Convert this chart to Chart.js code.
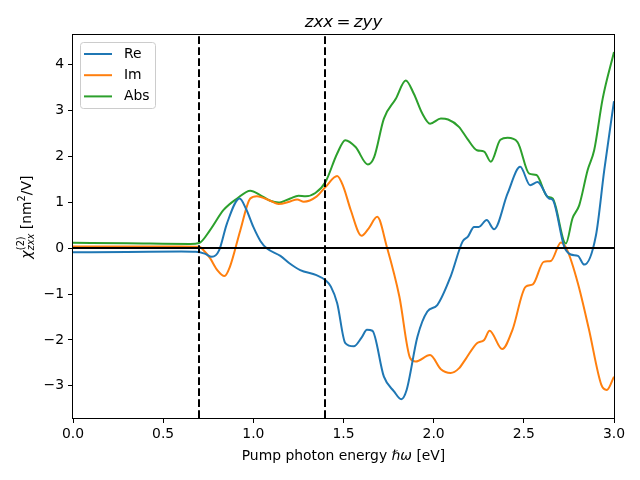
<!DOCTYPE html>
<html lang="en">
<head>
<meta charset="UTF-8">
<title>zxx = zyy</title>
<style>
  html, body { margin: 0; padding: 0; background: #fff; }
</style>
</head>
<body>
<canvas id="myChart" width="640" height="480"></canvas>

<script src="https://cdn.jsdelivr.net/npm/chart.js@4.4.2/dist/chart.umd.min.js"></script>
<script>
  // ---- data ----
  var reX = [0, 0.3, 0.6, 0.68, 0.73, 0.77, 0.81, 0.854, 0.924, 0.96, 1.0, 1.04, 1.076, 1.15, 1.2, 1.26, 1.35, 1.4, 1.43, 1.465, 1.51, 1.557, 1.6, 1.63, 1.66, 1.724, 1.78, 1.82, 1.85, 1.91, 1.965, 2.02, 2.094, 2.16, 2.19, 2.224, 2.25, 2.294, 2.335, 2.41, 2.48, 2.535, 2.576, 2.64, 2.66, 2.724, 2.76, 2.8, 2.835, 2.9, 2.946, 3.0];
  var reY = [-0.09, -0.085, -0.075, -0.08, -0.12, -0.19, -0.05, 0.54, 1.08, 0.85, 0.46, 0.15, -0.01, -0.17, -0.33, -0.48, -0.59, -0.7, -0.84, -1.2, -2.07, -2.14, -1.95, -1.78, -1.8, -2.8, -3.12, -3.29, -3.09, -1.93, -1.38, -1.24, -0.62, 0.14, 0.25, 0.46, 0.46, 0.61, 0.41, 1.19, 1.77, 1.37, 1.44, 1.08, 1.05, 0.03, -0.14, -0.17, -0.36, 0.28, 1.7, 3.2];

  var imX = [0, 0.6, 0.7, 0.72, 0.76, 0.8, 0.84, 0.87, 0.928, 0.983, 1.02, 1.094, 1.14, 1.2, 1.243, 1.28, 1.35, 1.4, 1.465, 1.5, 1.54, 1.6, 1.64, 1.687, 1.74, 1.81, 1.87, 1.9, 1.98, 2.04, 2.094, 2.14, 2.18, 2.24, 2.28, 2.31, 2.38, 2.437, 2.51, 2.55, 2.61, 2.65, 2.706, 2.74, 2.8, 2.86, 2.93, 2.96, 3.0];
  var imY = [0.035, 0.035, 0.03, -0.03, -0.22, -0.48, -0.61, -0.41, 0.39, 1.08, 1.13, 1.03, 0.96, 1.01, 1.06, 1.01, 1.12, 1.33, 1.57, 1.33, 0.83, 0.27, 0.43, 0.68, 0.03, -1.06, -2.4, -2.47, -2.33, -2.64, -2.72, -2.62, -2.4, -2.07, -2.0, -1.8, -2.2, -1.78, -0.84, -0.79, -0.3, -0.28, 0.12, -0.04, -0.77, -1.75, -2.98, -3.09, -2.8];

  var absX = [0, 0.3, 0.65, 0.7, 0.76, 0.835, 0.91, 0.983, 1.04, 1.094, 1.14, 1.205, 1.25, 1.29, 1.344, 1.4, 1.465, 1.51, 1.567, 1.635, 1.67, 1.724, 1.79, 1.845, 1.89, 1.937, 1.98, 2.04, 2.08, 2.14, 2.187, 2.24, 2.28, 2.317, 2.37, 2.41, 2.465, 2.53, 2.57, 2.63, 2.66, 2.733, 2.77, 2.807, 2.854, 2.89, 2.937, 3.0];
  var absY = [0.115, 0.105, 0.09, 0.11, 0.39, 0.83, 1.08, 1.25, 1.15, 1.03, 0.99, 1.08, 1.14, 1.13, 1.2, 1.44, 2.06, 2.35, 2.2, 1.82, 1.98, 2.82, 3.25, 3.65, 3.36, 2.93, 2.71, 2.82, 2.8, 2.64, 2.38, 2.13, 2.1, 1.88, 2.36, 2.4, 2.31, 1.62, 1.59, 1.12, 1.08, 0.1, 0.65, 0.93, 1.7, 2.13, 3.25, 4.27];

  var seriesNames = ['Re', 'Im', 'Abs'];
  var seriesColors = ['#1f77b4', '#ff7f0e', '#2ca02c'];

  var xTicks = [0, 0.5, 1.0, 1.5, 2.0, 2.5, 3.0];
  var yTicks = [-3, -2, -1, 0, 1, 2, 3, 4];
  var vLines = [0.7, 1.4];
  var hLines = [0];

  var FONT = '"DejaVu Sans", sans-serif';

  var toPoints = function (xs, ys) {
    var pts = [];
    for (var i = 0; i < xs.length; i++) pts.push({ x: xs[i], y: ys[i] });
    return pts;
  };

  var seriesData = [toPoints(reX, reY), toPoints(imX, imY), toPoints(absX, absY)];

  // extra drawing: reference lines, frame, legend, title, axis labels
  var decor = {
    id: 'decor',
    afterDatasetsDraw: function (chart) {
      var ctx = chart.ctx, a = chart.chartArea;
      var xs = chart.scales.x, ys = chart.scales.y;
      ctx.save();
      ctx.strokeStyle = '#000';
      ctx.lineWidth = 2;
      hLines.forEach(function (v) {
        var y = Math.round(ys.getPixelForValue(v));
        ctx.beginPath(); ctx.moveTo(a.left, y); ctx.lineTo(a.right, y); ctx.stroke();
      });
      ctx.setLineDash([7.7, 3.3]);
      vLines.forEach(function (v) {
        var x = Math.round(xs.getPixelForValue(v));
        ctx.beginPath(); ctx.moveTo(x, a.bottom); ctx.lineTo(x, a.top); ctx.stroke();
      });
      ctx.setLineDash([]);
      ctx.lineWidth = 1;
      ctx.strokeRect(a.left - 0.5, a.top - 0.5, a.right - a.left + 1, a.bottom - a.top + 1);

      // legend box
      ctx.fillStyle = 'rgba(255,255,255,0.8)';
      ctx.strokeStyle = '#cccccc';
      ctx.beginPath();
      ctx.roundRect(80.5, 42.5, 75, 66, 3);
      ctx.fill(); ctx.stroke();
      ctx.font = '13.9px ' + FONT;
      ctx.textBaseline = 'middle';
      ctx.textAlign = 'left';
      for (var i = 0; i < seriesNames.length; i++) {
        var ly = 54 + i * 21.2;
        ctx.strokeStyle = seriesColors[i];
        ctx.lineWidth = 2;
        ctx.beginPath(); ctx.moveTo(84, ly); ctx.lineTo(112, ly); ctx.stroke();
        ctx.fillStyle = '#000';
        ctx.fillText(seriesNames[i], 124, ly);
      }
      ctx.restore();
    },
    afterDraw: function (chart) {
      var ctx = chart.ctx, a = chart.chartArea;
      var cx = (a.left + a.right) / 2;
      ctx.save();
      ctx.fillStyle = '#000';
      ctx.textBaseline = 'alphabetic';

      // title (math style: tighter spaces around '=')
      ctx.font = 'italic 16.7px ' + FONT;
      ctx.textAlign = 'center';
      ctx.fillText('zxx\u2009=\u2009zyy', cx, 26.5);

      // x label with italic hbar omega
      ctx.textAlign = 'left';
      var p1 = 'Pump photon energy ', p2 = 'ℏω', p3 = ' [eV]';
      ctx.font = '13.9px ' + FONT;
      var w1 = ctx.measureText(p1).width, w3 = ctx.measureText(p3).width;
      ctx.font = 'italic 13.9px ' + FONT;
      var w2 = ctx.measureText(p2).width;
      var sx = cx - (w1 + w2 + w3) / 2;
      ctx.font = '13.9px ' + FONT;
      ctx.fillText(p1, sx, 460);
      ctx.font = 'italic 13.9px ' + FONT;
      ctx.fillText(p2, sx + w1, 460);
      ctx.font = '13.9px ' + FONT;
      ctx.fillText(p3, sx + w1 + w2, 460);

      // y label: chi^(2)_zxx [nm^2/V]
      ctx.translate(30.5, 217.5);
      ctx.rotate(-Math.PI / 2);
      var big = '13.9px ' + FONT, bigIt = 'italic 13.9px ' + FONT;
      var small = '9.7px ' + FONT, smallIt = 'italic 9.7px ' + FONT;
      ctx.font = bigIt; var wChi = ctx.measureText('χ').width;
      ctx.font = small; var wSup = ctx.measureText('(2)').width;
      ctx.font = smallIt; var wSub = ctx.measureText('zxx').width;
      ctx.font = big; var wA = ctx.measureText(' [nm').width;
      ctx.font = small; var w2b = ctx.measureText('2').width;
      ctx.font = big; var wB = ctx.measureText('/V]').width;
      var wStack = Math.max(wSup, wSub);
      var total = wChi + wStack + wA + w2b + wB;
      var x = -total / 2;
      ctx.font = bigIt; ctx.fillText('χ', x, 0); x += wChi + 0.5;
      ctx.font = small; ctx.fillText('(2)', x, -6.5);
      ctx.font = smallIt; ctx.fillText('zxx', x, 3.5);
      x += wStack;
      ctx.font = big; ctx.fillText(' [nm', x, 0); x += wA;
      ctx.font = small; ctx.fillText('2', x, -6); x += w2b;
      ctx.font = big; ctx.fillText('/V]', x, 0);
      ctx.restore();
    }
  };

  var datasets = [];
  for (var i = 0; i < seriesNames.length; i++) {
    datasets.push({
      label: seriesNames[i],
      data: seriesData[i],
      borderColor: seriesColors[i],
      backgroundColor: seriesColors[i],
      borderWidth: 2,
      pointRadius: 0,
      fill: false,
      cubicInterpolationMode: 'monotone'
    });
  }

  var tickFont = { family: FONT, size: 13.9 };

  new Chart(document.getElementById('myChart'), {
    type: 'line',
    data: { datasets: datasets },
    plugins: [decor],
    options: {
      responsive: false,
      animation: false,
      devicePixelRatio: 1,
      layout: { padding: { top: 35, right: 26, left: 0, bottom: 0 } },
      scales: {
        x: {
          type: 'linear',
          min: 0,
          max: 3,
          afterBuildTicks: function (s) { s.ticks = xTicks.map(function (v) { return { value: v }; }); },
          afterFit: function (s) { s.height = 62; },
          ticks: {
            autoSkip: false,
            maxRotation: 0,
            padding: 3,
            color: '#000',
            font: tickFont,
            callback: function (v) { return Number(v).toFixed(1); }
          },
          grid: { drawOnChartArea: false, drawTicks: true, tickLength: 5, color: '#000' },
          border: { display: false }
        },
        y: {
          type: 'linear',
          min: -3.7,
          max: 4.64,
          afterBuildTicks: function (s) { s.ticks = yTicks.map(function (v) { return { value: v }; }); },
          afterFit: function (s) { s.width = 73; },
          ticks: {
            autoSkip: false,
            padding: 4,
            color: '#000',
            font: tickFont,
            callback: function (v) { return v < 0 ? '\u2212' + Math.abs(v) : String(v); }
          },
          grid: { drawOnChartArea: false, drawTicks: true, tickLength: 5, color: '#000' },
          border: { display: false }
        }
      },
      plugins: {
        legend: { display: false },
        tooltip: { enabled: false },
        title: { display: false }
      }
    }
  });
</script>
</body>
</html>
